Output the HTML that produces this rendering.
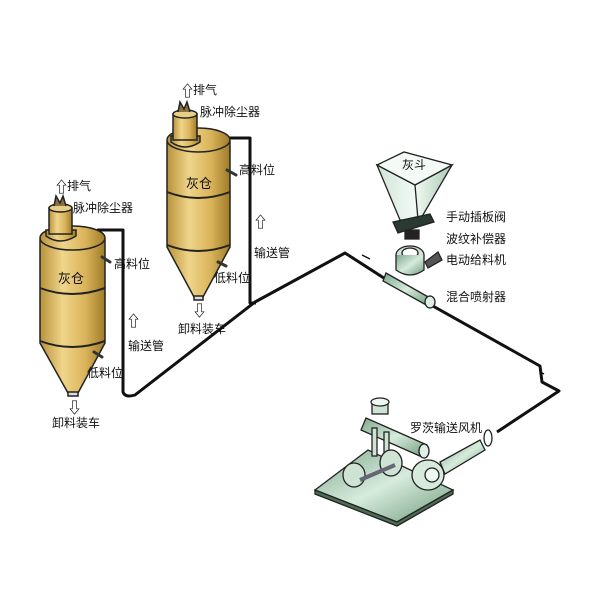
<!DOCTYPE html>
<html><head><meta charset="utf-8"><style>
html,body{margin:0;padding:0;background:#fff}
svg{display:block}
text{font-family:"Liberation Sans","Noto Sans CJK SC",sans-serif;font-size:12px;fill:#111}
</style></head><body>
<svg width="600" height="600" viewBox="0 0 600 600" xmlns="http://www.w3.org/2000/svg">
<defs>
<linearGradient id="gold" x1="0" x2="1" y1="0" y2="0">
<stop offset="0" stop-color="#b8923a"/><stop offset="0.35" stop-color="#f0d58a"/><stop offset="0.7" stop-color="#d9b35a"/><stop offset="1" stop-color="#a07c28"/>
</linearGradient>
<linearGradient id="green" x1="0" x2="1" y1="0" y2="1">
<stop offset="0" stop-color="#7fa88c"/><stop offset="0.5" stop-color="#d6ebdc"/><stop offset="1" stop-color="#6f9a7c"/>
</linearGradient>
<linearGradient id="hop" x1="0" x2="1">
<stop offset="0" stop-color="#cfe5d6"/><stop offset="0.5" stop-color="#f2faf4"/><stop offset="1" stop-color="#a9c9b3"/>
</linearGradient>
</defs>

<g fill="none" stroke="#111" stroke-width="3" stroke-linejoin="round">
<path d="M98 235 L98 230 L123 230 L123 392 Q125 398 135 395 L255 302 L345 253 L390 282 L540 366 L542 382 L559 391 L497 432"/>
<path d="M222 142 L222 138 L250 138 L250 303 L256 303"/>
</g>
<path d="M362 255 L370 259 M540 372 L544 374" stroke="#111" stroke-width="1.5"/>

<g stroke="#222" stroke-width="1.5">
<path d="M40 240 L40 343 L68 393 L78 393 L105 343 L105 240 Z" fill="url(#gold)"/>
<ellipse cx="72.5" cy="238" rx="32.5" ry="12" fill="url(#gold)"/>
<path d="M40 288 Q72 300 105 288 M40 341 Q72 353 105 341" fill="none" stroke-width="2"/>
<path d="M46 236 Q60 246 76 236 L76 230 L46 230 Z" fill="url(#gold)"/>
<rect x="49" y="208" width="23" height="26" fill="url(#gold)"/>
<ellipse cx="60.5" cy="208" rx="11.5" ry="4" fill="#e8cf88"/>
<rect x="68" y="392" width="10" height="4" fill="#ddd"/>
<path d="M54 206 L56 196 L60 203 L63 196 L66 206" fill="#8a7040"/>
</g>
<g stroke="#222" stroke-width="1.5">
<path d="M167 142 L167 247 L194 297 L203 297 L230 247 L230 142 Z" fill="url(#gold)"/>
<ellipse cx="198.5" cy="140" rx="31.5" ry="12" fill="url(#gold)"/>
<path d="M167 192 Q198 204 230 192 M167 245 Q198 257 230 245" fill="none" stroke-width="2"/>
<path d="M171 142 Q185 152 200 142 L200 136 L171 136 Z" fill="url(#gold)"/>
<rect x="173" y="114" width="24" height="26" fill="url(#gold)"/>
<ellipse cx="185" cy="114" rx="12" ry="4" fill="#e8cf88"/>
<rect x="194" y="296" width="9" height="4" fill="#ddd"/>
<path d="M178 112 L180 102 L184 109 L187 102 L190 112" fill="#8a7040"/>
</g>
<g stroke="#333" stroke-width="3" stroke-linecap="round">
<path d="M102 257 L110 262 M94 352 L102 357 M227 170 L236 175 M218 262 L226 266"/>
</g>

<g stroke="#222" stroke-width="1.3">
<path d="M377 165 L415 185 L452 165 L420 220 L400 220 Z" fill="url(#hop)"/>
<path d="M377 165 L404 152 L452 165 L415 185 Z" fill="#f4fbf6"/>
<path d="M415 185 L418 220" fill="none"/>
<path d="M393 222 L430 214 L434 222 L398 233 Z" fill="#2a3a30"/>
<rect x="405" y="230" width="14" height="9" fill="#222"/>
<ellipse cx="410" cy="255" rx="14" ry="9" fill="#cfe3d4"/>
<ellipse cx="410" cy="253" rx="8" ry="5" fill="#fff"/>
<path d="M396 255 L396 270 Q410 280 424 270 L424 255" fill="url(#green)"/>
<path d="M425 262 L438 252 L442 260 L428 268 Z" fill="#555"/>
<path d="M386 273 L430 298 L428 306 L383 281 Z" fill="url(#green)"/>
<ellipse cx="430" cy="302" rx="5" ry="6" fill="#dfeee3"/>
</g>

<g stroke="#222" stroke-width="1.3">
<path d="M315 490 L368 450 L453 490 L397 522 Z" fill="url(#green)"/>
<path d="M315 490 L397 522 L453 490 L453 494 L397 526 L315 494 Z" fill="#4b6e55"/>
<rect x="372" y="402" width="16" height="12" fill="#cfe3d4"/>
<ellipse cx="380" cy="402" rx="9" ry="4" fill="#eef7f0"/>
<path d="M366 418 L427 445 L422 457 L361 430 Z" fill="url(#green)"/>
<ellipse cx="424" cy="451" rx="5" ry="7" fill="#dfeee3"/>
<rect x="372" y="428" width="5" height="28" fill="#cfe3d4"/>
<rect x="384" y="432" width="5" height="28" fill="#cfe3d4"/>
<ellipse cx="391" cy="463" rx="11" ry="13" fill="#cfe3d4"/>
<ellipse cx="354" cy="475" rx="11" ry="12" fill="#cfe3d4"/>
<path d="M360 480 L395 465" stroke-width="4" stroke="#667"/>
<ellipse cx="428" cy="475" rx="16" ry="15" fill="#d6ebdc"/>
<ellipse cx="432" cy="475" rx="7" ry="7" fill="#eef7f0"/>
<path d="M440 462 L480 440 L485 450 L445 474 Z" fill="url(#green)"/>
<ellipse cx="488" cy="438" rx="4" ry="8" fill="#fff"/>
</g>

<g style="font-weight:bold">
<text x="54" y="192" style="font-size:15px">⇧</text>
<text x="180" y="96" style="font-size:15px">⇧</text>
<text x="126" y="326" style="font-size:15px">⇧</text>
<text x="253" y="227" style="font-size:15px">⇧</text>
<text x="67" y="413" style="font-size:15px">⇩</text>
<text x="192" y="316" style="font-size:15px">⇩</text>
</g>

<text x="67" y="190">排气</text>
<text x="73" y="212">脉冲除尘器</text>
<text x="58" y="283" style="font-size:13px">灰仓</text>
<text x="114" y="268">高料位</text>
<text x="87" y="377">低料位</text>
<text x="128" y="350">输送管</text>
<text x="52" y="427">卸料装车</text>

<text x="193" y="94">排气</text>
<text x="200" y="116">脉冲除尘器</text>
<text x="186" y="188" style="font-size:13px">灰仓</text>
<text x="239" y="174">高料位</text>
<text x="214" y="282">低料位</text>
<text x="254" y="257">输送管</text>
<text x="178" y="333">卸料装车</text>

<text x="402" y="169">灰斗</text>
<text x="446" y="221">手动插板阀</text>
<text x="446" y="243">波纹补偿器</text>
<text x="446" y="264">电动给料机</text>
<text x="446" y="301">混合喷射器</text>
<text x="410" y="432">罗茨输送风机</text>
</svg>
</body></html>
